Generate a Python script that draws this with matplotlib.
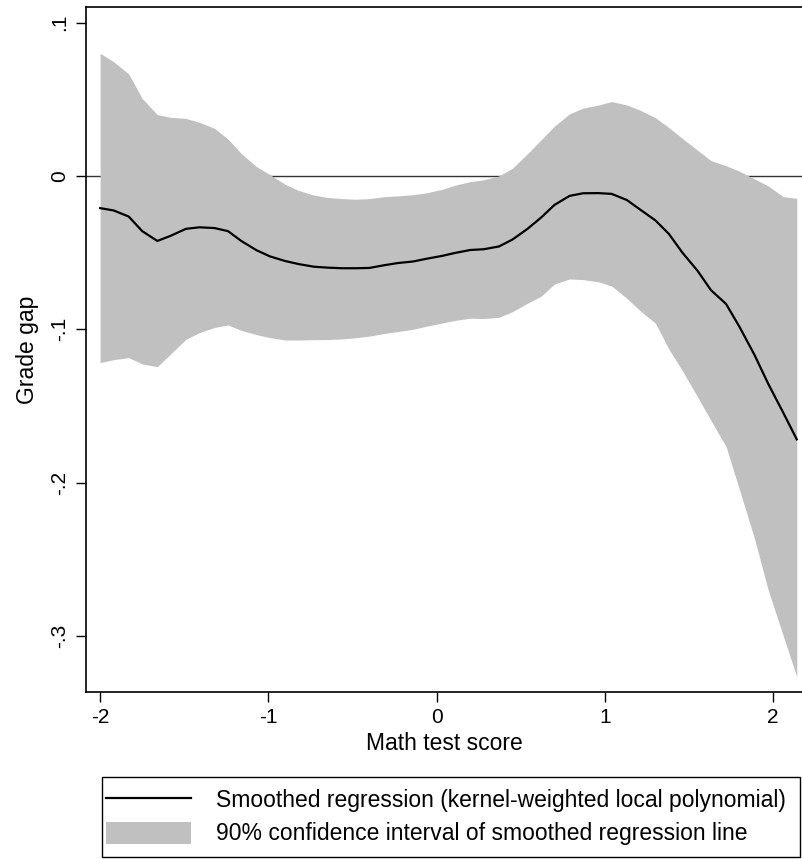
import matplotlib
matplotlib.use("Agg")
import matplotlib.pyplot as plt
from matplotlib.lines import Line2D
from matplotlib.patches import Patch, Rectangle

plt.rcParams['font.family'] = ['Liberation Sans', 'DejaVu Sans']

# lpoly grid (math test score)
score = [-2.00, -1.92, -1.83, -1.75, -1.66, -1.58, -1.49, -1.41, -1.32, -1.24,
         -1.16, -1.07, -0.99, -0.90, -0.82, -0.73, -0.65, -0.56, -0.48, -0.40,
         -0.31, -0.23, -0.14, -0.06, 0.03, 0.11, 0.20, 0.28, 0.37, 0.45,
         0.54, 0.62, 0.70, 0.79, 0.87, 0.96, 1.04, 1.13, 1.21, 1.30,
         1.38, 1.46, 1.55, 1.63, 1.72, 1.80, 1.89, 1.97, 2.06, 2.14]

# smoothed grade gap
gap = [-0.0210, -0.0225, -0.0265, -0.0360, -0.0424, -0.0390, -0.0345, -0.0335, -0.0340, -0.0360,
       -0.0425, -0.0485, -0.0525, -0.0555, -0.0575, -0.0592, -0.0598, -0.0602, -0.0602, -0.0600,
       -0.0582, -0.0568, -0.0558, -0.0540, -0.0522, -0.0502, -0.0483, -0.0478, -0.0460, -0.0415,
       -0.0345, -0.0272, -0.0189, -0.0130, -0.0113, -0.0112, -0.0117, -0.0157, -0.0220, -0.0290,
       -0.0378, -0.0500, -0.0618, -0.0745, -0.0835, -0.0985, -0.1170, -0.1355, -0.1545, -0.1718]

# 90% CI
ci_hi = [0.0800, 0.0745, 0.0665, 0.0505, 0.0400, 0.0382, 0.0375, 0.0350, 0.0310, 0.0240,
         0.0145, 0.0060, 0.0008, -0.0055, -0.0095, -0.0125, -0.0140, -0.0148, -0.0152, -0.0148,
         -0.0135, -0.0130, -0.0122, -0.0110, -0.0088, -0.0060, -0.0037, -0.0025, 0.0000, 0.0050,
         0.0145, 0.0235, 0.0325, 0.0405, 0.0442, 0.0462, 0.0485, 0.0463, 0.0428, 0.0380,
         0.0315, 0.0245, 0.0168, 0.0100, 0.0067, 0.0030, -0.0020, -0.0065, -0.0135, -0.0146]
ci_lo = [-0.1218, -0.1198, -0.1185, -0.1226, -0.1244, -0.1160, -0.1065, -0.1022, -0.0988, -0.0972,
         -0.1008, -0.1035, -0.1055, -0.1070, -0.1070, -0.1068, -0.1067, -0.1063, -0.1055, -0.1045,
         -0.1027, -0.1015, -0.1000, -0.0980, -0.0960, -0.0942, -0.0928, -0.0930, -0.0922, -0.0885,
         -0.0830, -0.0785, -0.0705, -0.0672, -0.0676, -0.0690, -0.0718, -0.0798, -0.0880, -0.0960,
         -0.1130, -0.1270, -0.1440, -0.1595, -0.1765, -0.2048, -0.2370, -0.2700, -0.3000, -0.3266]

xticks = [-2, -1, 0, 1, 2]
yticks = [-0.3, -0.2, -0.1, 0, 0.1]
ytick_labels = ['-.3', '-.2', '-.1', '0', '.1']

fig = plt.figure(figsize=(8.03, 8.59), dpi=100)
ax = fig.add_axes([0.1071, 0.1947, 0.8929, 0.7972])

band_col = '#c0c0c0'
ax.axhline(0, color='#333333', lw=1.0, zorder=1)
ax.fill_between(score, ci_lo, ci_hi, color=band_col, lw=0, zorder=2)
ax.plot(score, gap, color='black', lw=1.6, zorder=3)

ax.set_xlim(-2.084, 2.177)
ax.set_ylim(-0.3364, 0.1102)
ax.set_xticks(xticks)
ax.set_xticklabels([str(t) for t in xticks])
ax.set_yticks(yticks)
ax.set_yticklabels(ytick_labels, rotation=90, va='center')
ax.tick_params(axis='both', direction='out', length=7, width=1, labelsize=15, pad=5)

for s in ['left', 'bottom', 'top']:
    ax.spines[s].set_linewidth(1.2)
ax.spines['right'].set_visible(False)

ax.set_xlabel('Math test score', fontsize=16.5, labelpad=3)
ax.set_ylabel('Grade gap', fontsize=16.5, labelpad=8)

# legend: frame drawn as its own box, keys placed inside it
box = Rectangle((0.127, 0.0023), 0.8692, 0.0931, transform=fig.transFigure,
                facecolor='white', edgecolor='black', lw=1.0)
fig.add_artist(box)

handles = [Line2D([], [], color='black', lw=1.6),
           Patch(facecolor=band_col, edgecolor='none')]
labels = ['Smoothed regression (kernel-weighted local polynomial)',
          '90% confidence interval of smoothed regression line']
leg = fig.legend(handles, labels, loc='center left',
                 bbox_to_anchor=(0.129, 0.0489), frameon=False,
                 fontsize=16.5, handlelength=3.7, handleheight=1.1,
                 handletextpad=1.1, borderpad=0.1, labelspacing=0.4,
                 borderaxespad=0)

fig.savefig('out.png', dpi=100)
